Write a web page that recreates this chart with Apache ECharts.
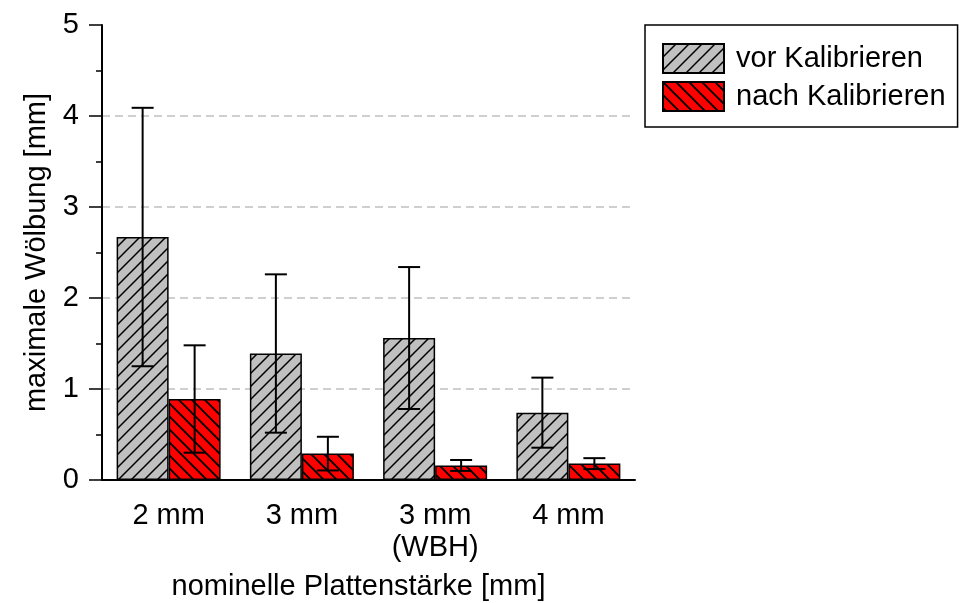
<!DOCTYPE html>
<html>
<head>
<meta charset="utf-8">
<script src="https://cdn.jsdelivr.net/npm/echarts@6/dist/echarts.min.js"></script>
<style>
  html, body { margin: 0; padding: 0; background: #fff; }
  #chart { width: 966px; height: 603px; }
</style>
</head>
<body>
<div id="chart"></div>
<script>
// ---- data ----
const categories = ['2 mm', '3 mm', '3 mm\n(WBH)', '4 mm'];
const seriesNames = ['vor Kalibrieren', 'nach Kalibrieren'];
const vorMean = [2.67, 1.39, 1.56, 0.74];
const vorSd = [1.42, 0.87, 0.78, 0.385];
const nachMean = [0.89, 0.29, 0.16, 0.18];
const nachSd = [0.59, 0.185, 0.06, 0.06];
const yTicks = [0, 1, 2, 3, 4, 5];

// ---- styles ----
const FONT = 'Liberation Sans';
const FS = 29;
const BAR_W = 52;

function hatch(bg, dir, lw) {
  const s = 13;
  const c = document.createElement('canvas');
  c.width = s; c.height = s;
  const g = c.getContext('2d');
  g.fillStyle = bg; g.fillRect(0, 0, s, s);
  g.strokeStyle = '#000'; g.lineWidth = lw;
  g.beginPath();
  if (dir === '/') {
    g.moveTo(-2, s + 2); g.lineTo(s + 2, -2);
    g.moveTo(-2, 2); g.lineTo(2, -2);
    g.moveTo(s - 2, s + 2); g.lineTo(s + 2, s - 2);
  } else {
    g.moveTo(-2, -2); g.lineTo(s + 2, s + 2);
    g.moveTo(s - 2, -2); g.lineTo(s + 2, 2);
    g.moveTo(-2, s - 2); g.lineTo(2, s + 2);
  }
  g.stroke();
  return { image: c, repeat: 'repeat' };
}
const grayFill = hatch('#c0c0c0', '/', 1.5);
const redFill = hatch('#ff0000', '\\', 1.9);

function errData(mean, sd) {
  return mean.map((m, i) => [i, m - sd[i], m + sd[i]]);
}
function errRender(offset) {
  return function (params, api) {
    const i = api.value(0);
    const lo = api.coord([i, api.value(1)]);
    const hi = api.coord([i, api.value(2)]);
    const x = lo[0] + offset;
    const cap = 11;
    const st = { stroke: '#000', lineWidth: 2 };
    return {
      type: 'group',
      children: [
        { type: 'line', shape: { x1: x, y1: lo[1], x2: x, y2: hi[1] }, style: st },
        { type: 'line', shape: { x1: x - cap, y1: lo[1], x2: x + cap, y2: lo[1] }, style: st },
        { type: 'line', shape: { x1: x - cap, y1: hi[1], x2: x + cap, y2: hi[1] }, style: st }
      ]
    };
  };
}

const chart = echarts.init(document.getElementById('chart'), null, { renderer: 'canvas' });
chart.setOption({
  animation: false,
  backgroundColor: '#fff',
  textStyle: { fontFamily: FONT, color: '#000' },
  grid: { left: 102, top: 25, right: 331, bottom: 123, containLabel: false, outerBoundsMode: 'none' },
  legend: {
    orient: 'vertical',
    left: 645, top: 25,
    padding: [18, 12, 15, 17],
    itemWidth: 61, itemHeight: 29, itemGap: 7,
    borderColor: '#000', borderWidth: 1.5,
    icon: 'rect',
    itemStyle: { borderColor: '#000', borderWidth: 2 },
    textStyle: { fontFamily: FONT, fontSize: FS, color: '#000', padding: [0, 0, 0, 7] },
    data: seriesNames
  },
  xAxis: {
    type: 'category',
    data: categories,
    boundaryGap: true,
    axisLine: { lineStyle: { color: '#000', width: 2 } },
    axisTick: { alignWithLabel: true, length: 13, lineStyle: { color: '#000', width: 1.5 } },
    axisLabel: { fontFamily: FONT, fontSize: FS, color: '#000', margin: 20, lineHeight: 32 },
    name: 'nominelle Plattenstärke [mm]',
    nameLocation: 'middle',
    nameGap: 92,
    nameTextStyle: { fontFamily: FONT, fontSize: FS, color: '#000', padding: [0, 20, 0, 0] }
  },
  yAxis: {
    type: 'value',
    min: yTicks[0], max: yTicks[yTicks.length - 1], interval: 1,
    axisLine: { show: true, lineStyle: { color: '#000', width: 2 } },
    axisTick: { show: true, length: 13, lineStyle: { color: '#000', width: 1.5 } },
    minorTick: { show: true, splitNumber: 2, length: 6, lineStyle: { color: '#000', width: 1.5 } },
    axisLabel: { fontFamily: FONT, fontSize: FS, color: '#000', margin: 23 },
    splitLine: { show: true, showMinLine: false, showMaxLine: false, lineStyle: { color: '#c0c0c0', width: 1.5, type: [8, 5] } },
    name: 'maximale Wölbung [mm]',
    nameLocation: 'middle',
    nameGap: 50,
    nameTextStyle: { fontFamily: FONT, fontSize: FS, color: '#000' }
  },
  series: [
    {
      name: seriesNames[0], type: 'bar', data: vorMean,
      barWidth: BAR_W, barGap: '0%',
      itemStyle: { color: grayFill, borderColor: '#000', borderWidth: 1.5 }
    },
    {
      name: seriesNames[1], type: 'bar', data: nachMean,
      barWidth: BAR_W, barGap: '0%',
      itemStyle: { color: redFill, borderColor: '#000', borderWidth: 1.5 }
    },
    {
      type: 'custom', name: 'err0', renderItem: errRender(-BAR_W / 2),
      data: errData(vorMean, vorSd), encode: { x: 0, y: [1, 2] }, z: 5, silent: true
    },
    {
      type: 'custom', name: 'err1', renderItem: errRender(BAR_W / 2),
      data: errData(nachMean, nachSd), encode: { x: 0, y: [1, 2] }, z: 5, silent: true
    }
  ]
});
</script>
</body>
</html>
